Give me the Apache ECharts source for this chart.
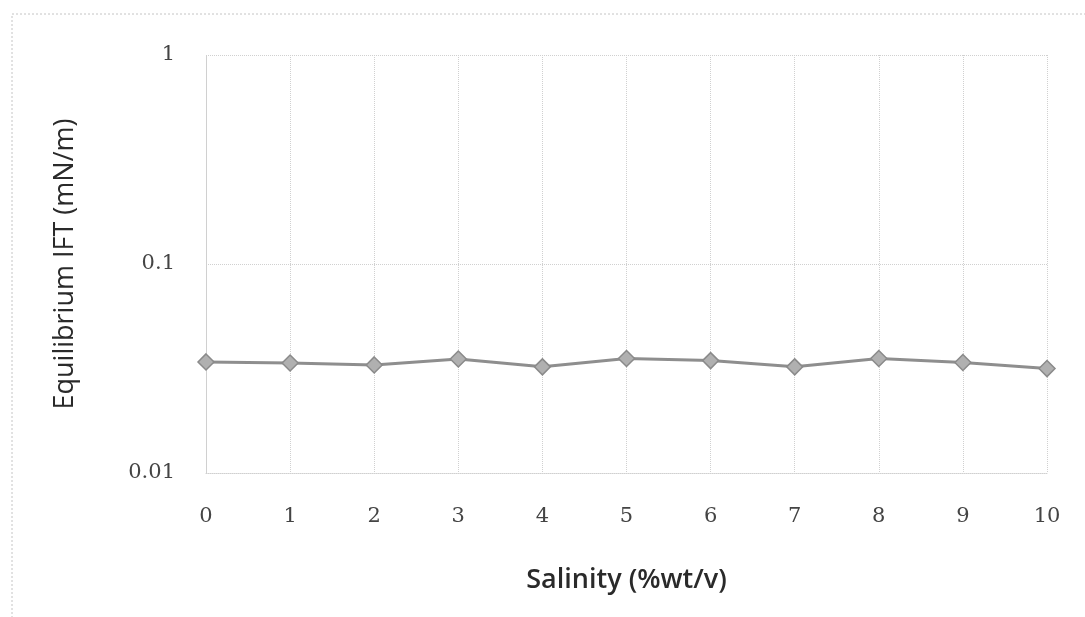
<!DOCTYPE html>
<html>
<head>
<meta charset="utf-8">
<script src="https://cdn.jsdelivr.net/npm/echarts@6/dist/echarts.min.js"></script>
<style>
  html, body { margin: 0; padding: 0; background: #fff; }
  #chart { width: 1085px; height: 617px; }
</style>
</head>
<body>
<div id="chart"></div>
<script>
    var salinity = [0, 1, 2, 3, 4, 5, 6, 7, 8, 9, 10];
    var ift = [0.0340, 0.0336, 0.0329, 0.0351, 0.0322, 0.0353, 0.0345, 0.0322, 0.0353, 0.0338, 0.0316];
    var yTicks = [0.01, 0.1, 1];

    var points = salinity.map(function (s, i) { return [s, ift[i]]; });
    var tickFont = '"DejaVu Serif", "Liberation Serif", serif';
    var titleFont = '"Open Sans", "Noto Sans", sans-serif';
    var gridColor = '#d0d0d0';

    var myChart = echarts.init(document.getElementById('chart'));
    var option = {
        backgroundColor: '#fff',
        animation: false,
        grid: { left: 206, right: 38, top: 55, bottom: 144 },
        graphic: [{
            type: 'rect',
            shape: { x: 12, y: 14, width: 1100, height: 700 },
            style: { fill: 'none', stroke: '#c4c4c4', lineWidth: 1, lineDash: [2, 2] }
        }],
        xAxis: {
            type: 'value',
            min: 0,
            max: 10,
            interval: 1,
            name: 'Salinity (%wt/v)',
            nameLocation: 'middle',
            nameGap: 94,
            nameTextStyle: { fontFamily: titleFont, fontSize: 27, fontWeight: 600, color: '#2a2a2a' },
            axisLine: { lineStyle: { color: gridColor, type: 'dotted' } },
            axisTick: { show: false },
            axisLabel: { fontFamily: tickFont, fontSize: 21, color: '#444', margin: 33 },
            splitLine: { show: true, lineStyle: { color: gridColor, type: 'dotted', width: 1 } }
        },
        yAxis: {
            type: 'log',
            logBase: 10,
            min: yTicks[0],
            max: yTicks[yTicks.length - 1],
            name: 'Equilibrium IFT (mN/m)',
            nameLocation: 'middle',
            nameGap: 127,
            nameTextStyle: { fontFamily: titleFont, fontSize: 27, fontWeight: 500, color: '#2a2a2a' },
            axisLine: { show: true, lineStyle: { color: gridColor, type: 'dotted' } },
            axisTick: { show: false },
            axisLabel: {
                fontFamily: tickFont, fontSize: 21, color: '#444', margin: 31,
                formatter: function (v) { return String(+v.toPrecision(3)); }
            },
            splitLine: { show: true, lineStyle: { color: gridColor, type: 'dotted', width: 1 } }
        },
        series: [{
            type: 'line',
            data: points,
            symbol: 'diamond',
            symbolSize: 16,
            lineStyle: { color: '#8e8e8e', width: 3 },
            itemStyle: { color: '#b0b0b0', borderColor: '#8a8a8a', borderWidth: 1.5 }
        }]
    };
    myChart.setOption(option);
</script>
</body>
</html>
